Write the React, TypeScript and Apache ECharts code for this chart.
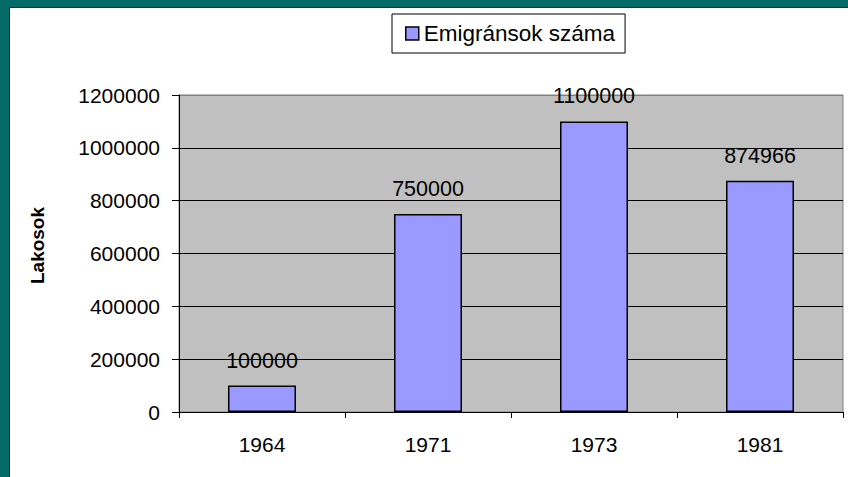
import React, { useEffect, useRef } from "react";
import * as echarts from "echarts";

const categories = ["1964", "1971", "1973", "1981"];
const values = [100000, 750000, 1100000, 874966];
const seriesName = "Emigránsok száma";
const yAxisName = "Lakosok";

const FONT = "'Liberation Sans', Arial, sans-serif";

export default function App() {
  const ref = useRef<HTMLDivElement>(null);
  useEffect(() => {
    document.body.style.margin = "0";
    const chart = echarts.init(ref.current!, null, { renderer: "svg" });
    chart.setOption({
      animation: false,
      backgroundColor: "#ffffff",
      graphic: [
        { type: "rect", z: -10, shape: { x: 0, y: 0, width: 848, height: 8 }, style: { fill: "#066b68" }, silent: true },
        { type: "rect", z: -10, shape: { x: 0, y: 0, width: 10, height: 477 }, style: { fill: "#066b68" }, silent: true },
        { type: "line", z: -9, shape: { x1: 9.5, y1: 7.5, x2: 9.5, y2: 477 }, style: { stroke: "#1a2a2a", lineWidth: 1 }, silent: true },
        { type: "line", z: -9, shape: { x1: 9.5, y1: 7.5, x2: 848, y2: 7.5 }, style: { stroke: "#1a2a2a", lineWidth: 1 }, silent: true },
      ],
      legend: {
        left: 392,
        top: 14,
        padding: [8, 10, 8, 13],
        borderColor: "#000",
        borderWidth: 1,
        backgroundColor: "#fff",
        itemWidth: 13,
        itemHeight: 13,
        icon: "rect",
        textStyle: { fontSize: 22.5, color: "#000", fontFamily: FONT },
        data: [{ name: seriesName, itemStyle: { color: "#9999FF", borderColor: "#000", borderWidth: 1.5 } }],
      },
      grid: {
        left: 179,
        right: 5,
        top: 95,
        bottom: 65,
        show: true,
        backgroundColor: "#C0C0C0",
        borderColor: "#808080",
        borderWidth: 1,
      },
      xAxis: {
        type: "category",
        data: categories,
        axisLine: { lineStyle: { color: "#000", width: 1 } },
        axisTick: { show: true, length: 6, alignWithLabel: false, lineStyle: { color: "#000" } },
        axisLabel: { fontSize: 21, color: "#000", margin: 22, fontFamily: FONT },
      },
      yAxis: {
        type: "value",
        min: 0,
        max: 1200000,
        interval: 200000,
        name: yAxisName,
        nameLocation: "middle",
        nameRotate: 90,
        nameGap: 132,
        nameTextStyle: { fontSize: 19, fontWeight: "bold", color: "#000", fontFamily: FONT, padding: [0, 0, 0, 16] },
        axisLine: { show: true, lineStyle: { color: "#000", width: 1 } },
        axisTick: { show: true, length: 7, lineStyle: { color: "#000" } },
        axisLabel: { fontSize: 21, color: "#000", margin: 19, fontFamily: FONT, formatter: (v: number) => String(v) },
        splitLine: {
          show: true,
          lineStyle: { color: ["#000", "#000", "#000", "#000", "#000", "#000", "#808080"], width: 1 },
        },
      },
      series: [
        {
          name: seriesName,
          type: "bar",
          data: values,
          barWidth: 68,
          itemStyle: { color: "#9999FF", borderColor: "#000", borderWidth: 1.5 },
          label: { show: true, position: "top", distance: 14, fontSize: 21.5, color: "#000", fontFamily: FONT },
        },
      ],
    });
    return () => chart.dispose();
  }, []);
  return <div ref={ref} style={{ position: "absolute", left: 0, top: 0, width: 848, height: 477 }} />;
}
